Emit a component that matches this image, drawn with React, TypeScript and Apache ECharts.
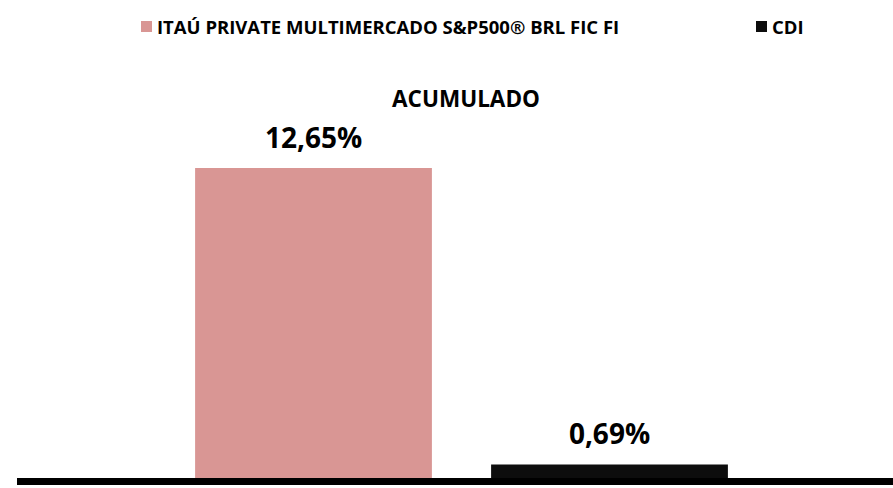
import React, { useEffect, useRef } from "react";
import * as echarts from "echarts";

const categories = ["ITAÚ PRIVATE MULTIMERCADO S&P500® BRL FIC FI", "CDI"];
const fundValues = [12.65, "-"];
const cdiValues = ["-", 0.69];
const chartTitle = "ACUMULADO";

const FONT = "'Open Sans', Lato, sans-serif";
const fmt = (v: number) => `${v.toFixed(2).replace(".", ",")}%`;

export default function App() {
  const ref = useRef<HTMLDivElement>(null);
  useEffect(() => {
    if (!ref.current) return;
    const chart = echarts.init(ref.current, undefined, { renderer: "svg" });
    const label = {
      show: true,
      position: "top",
      distance: 17,
      fontFamily: FONT,
      fontWeight: "bold",
      fontSize: 28,
      color: "#000",
      formatter: (p: any) => fmt(p.value),
    };
    const legendText = { fontFamily: FONT, fontWeight: "bold", fontSize: 18.5, color: "#000" };
    chart.setOption({
      animation: false,
      title: {
        text: chartTitle,
        left: 461,
        top: 82,
        textAlign: "center",
        textStyle: { fontFamily: FONT, fontWeight: "bold", fontSize: 22.5, color: "#000" },
      },
      legend: [
        {
          data: [categories[0]],
          left: 136,
          top: 12,
          icon: "rect",
          itemWidth: 11,
          itemHeight: 11,
          textStyle: legendText,
        },
        {
          data: [categories[1]],
          left: 751,
          top: 12,
          icon: "rect",
          itemWidth: 11,
          itemHeight: 11,
          textStyle: legendText,
        },
      ],
      grid: { left: 165.5, right: 135.5, top: 134.5, bottom: 6.5, containLabel: false },
      xAxis: {
        type: "category",
        data: categories,
        axisLine: { show: false },
        axisTick: { show: false },
        axisLabel: { show: false },
      },
      yAxis: { type: "value", min: 0, max: 14, show: false, splitLine: { show: false } },
      graphic: [
        {
          type: "rect",
          z: 100,
          shape: { x: 17, y: 478, width: 876, height: 7 },
          style: { fill: "#000" },
        },
      ],
      series: [
        {
          name: categories[0],
          type: "bar",
          stack: "a",
          barWidth: "80%",
          data: fundValues,
          itemStyle: { color: "#D99694" },
          label,
        },
        {
          name: categories[1],
          type: "bar",
          stack: "a",
          barWidth: "80%",
          data: cdiValues,
          itemStyle: { color: "#0D0D0D" },
          label,
        },
      ],
    });
    return () => chart.dispose();
  }, []);
  return <div ref={ref} style={{ width: 893, height: 488, position: "absolute", left: 0, top: 0 }} />;
}
